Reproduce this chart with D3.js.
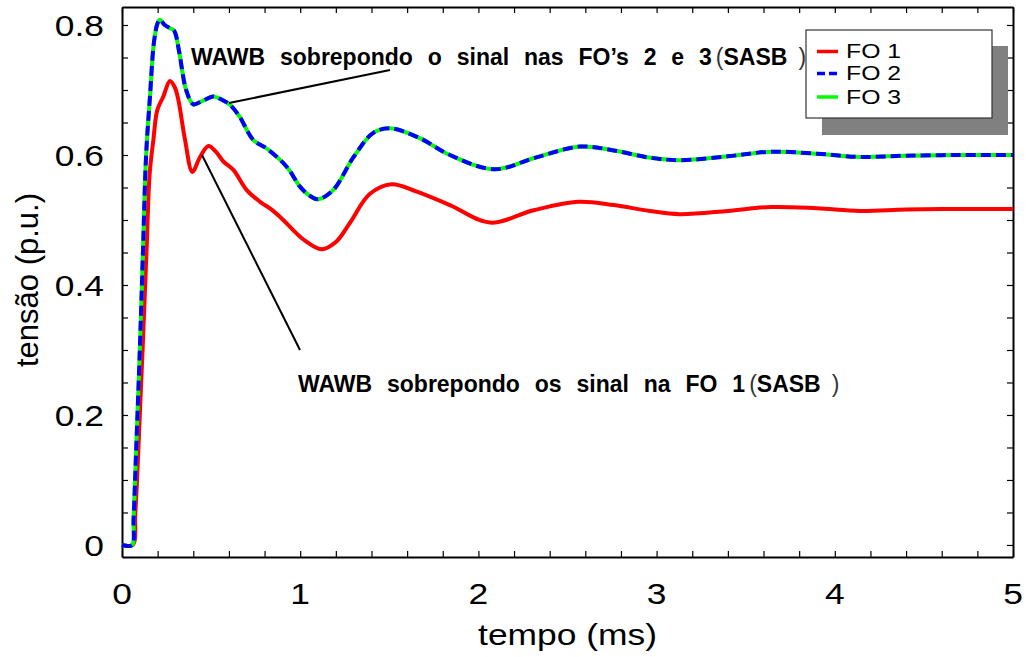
<!DOCTYPE html>
<html>
<head>
<meta charset="utf-8">
<script src="https://cdn.jsdelivr.net/npm/d3@7/dist/d3.min.js"></script>
<style>
  html, body { margin: 0; padding: 0; background: #fff; }
  svg { display: block; font-family: "Liberation Sans", Arial, sans-serif; }
</style>
</head>
<body>
<svg id="chart" width="1026" height="657"></svg>
<script>
// Time samples (ms) and voltage (p.u.) for each fibre output
const timeFO1 = [0, 0.06, 0.075, 0.1, 0.12, 0.138, 0.155, 0.176, 0.198, 0.232, 0.269, 0.295, 0.316, 0.354, 0.395,
  0.438, 0.485, 0.53, 0.569, 0.625, 0.70, 0.775, 0.84, 0.905, 1.018, 1.12, 1.20, 1.28, 1.39, 1.513, 1.65, 1.84,
  2.065, 2.31, 2.56, 2.76, 2.96, 3.13, 3.40, 3.64, 3.90, 4.14, 4.40, 4.70, 5.0];
const fo1 = [0, 0, 0.05, 0.2, 0.33, 0.454, 0.57, 0.623, 0.669, 0.690, 0.714, 0.705, 0.685, 0.623, 0.574,
  0.597, 0.614, 0.604, 0.590, 0.577, 0.546, 0.528, 0.516, 0.500, 0.470, 0.455, 0.466, 0.496, 0.540, 0.555, 0.544, 0.523,
  0.496, 0.515, 0.528, 0.523, 0.514, 0.509, 0.514, 0.520, 0.518, 0.514, 0.516, 0.517, 0.517];

const timeFO23 = [0, 0.056, 0.065, 0.08, 0.1, 0.118, 0.135, 0.157, 0.18, 0.2, 0.213, 0.24, 0.27, 0.293, 0.32,
  0.36, 0.40, 0.45, 0.513, 0.56, 0.607, 0.66, 0.737, 0.812, 0.924, 1.0, 1.05, 1.10, 1.185, 1.30, 1.41, 1.505, 1.67, 1.84,
  2.09, 2.31, 2.57, 2.76, 2.96, 3.13, 3.40, 3.64, 3.90, 4.14, 4.40, 4.70, 5.0];
const fo2 = [0, 0, 0.04, 0.15, 0.3, 0.455, 0.598, 0.69, 0.775, 0.803, 0.808, 0.800, 0.795, 0.791, 0.76,
  0.70, 0.678, 0.683, 0.690, 0.685, 0.677, 0.659, 0.623, 0.610, 0.582, 0.551, 0.538, 0.532, 0.546, 0.597, 0.634, 0.641, 0.626, 0.600,
  0.578, 0.595, 0.613, 0.607, 0.596, 0.592, 0.598, 0.605, 0.602, 0.597, 0.599, 0.600, 0.600];
const fo3 = [0, 0, 0.04, 0.15, 0.3, 0.455, 0.598, 0.69, 0.775, 0.803, 0.808, 0.800, 0.795, 0.791, 0.76,
  0.70, 0.678, 0.683, 0.690, 0.685, 0.677, 0.659, 0.623, 0.610, 0.582, 0.551, 0.538, 0.532, 0.546, 0.597, 0.634, 0.641, 0.626, 0.600,
  0.578, 0.595, 0.613, 0.607, 0.596, 0.592, 0.598, 0.605, 0.602, 0.597, 0.599, 0.600, 0.600];

const xTickValues = [0, 1, 2, 3, 4, 5];
const xTickLabels = ["0", "1", "2", "3", "4", "5"];
const yTickValues = [0, 0.2, 0.4, 0.6, 0.8];
const yTickLabels = ["0", "0.2", "0.4", "0.6", "0.8"];
const legendLabels = ["FO 1", "FO 2", "FO 3"];
const xTitle = "tempo (ms)";
const yTitle = "tensão (p.u.)";

const svg = d3.select("#chart");
const x = d3.scaleLinear().domain([0, 5]).range([122, 1013]);
const y = d3.scaleLinear().domain([-0.0185, 0.8277]).range([557, 7]);
const STRETCH = 1.18; // horizontal widening of the glyphs

function wideText(g, tx, ty, str, opts) {
  const t = g.append("text")
    .attr("transform", `translate(${tx},${ty}) scale(${opts.sx || STRETCH},1)`)
    .attr("font-size", opts.size)
    .attr("text-anchor", opts.anchor || "start")
    .attr("fill", "#000")
    .text(str);
  if (opts.weight) t.attr("font-weight", opts.weight);
  return t;
}

// minor ticks every 0.2 ms / 0.05 p.u. on all four sides, pointing inward
const xMinor = d3.range(0, 5.001, 0.2);
const yMinor = d3.range(0, 0.8001, 0.05);
svg.append("g").attr("transform", `translate(0,${y.range()[0]})`)
  .call(d3.axisBottom(x).tickValues(xMinor).tickSize(-6).tickSizeOuter(0).tickFormat(""));
svg.append("g").attr("transform", `translate(0,${y.range()[1]})`)
  .call(d3.axisTop(x).tickValues(xMinor).tickSize(-6).tickSizeOuter(0).tickFormat(""));
svg.append("g").attr("transform", `translate(${x.range()[0]},0)`)
  .call(d3.axisLeft(y).tickValues(yMinor).tickSize(-6).tickSizeOuter(0).tickFormat(""));
svg.append("g").attr("transform", `translate(${x.range()[1]},0)`)
  .call(d3.axisRight(y).tickValues(yMinor).tickSize(-6).tickSizeOuter(0).tickFormat(""));
svg.selectAll(".domain").attr("stroke", "#000").attr("stroke-width", 2);
svg.selectAll(".tick line").attr("stroke", "#000").attr("stroke-width", 1.2);

// tick labels
const labels = svg.append("g");
xTickValues.forEach((v, i) => wideText(labels, x(v), 604, xTickLabels[i], { size: 30, anchor: "middle" }));
yTickValues.forEach((v, i) => wideText(labels, 104, y(v) + 11, yTickLabels[i], { size: 30, anchor: "end" }));

// axis titles
wideText(svg, (x.range()[0] + x.range()[1]) / 2, 645, xTitle, { size: 30, anchor: "middle" });
svg.append("text")
  .attr("transform", `translate(38,280) rotate(-90)`)
  .attr("font-size", 31)
  .attr("text-anchor", "middle")
  .text(yTitle);

// curves
const line = d3.line().x(d => x(d[0])).y(d => y(d[1])).curve(d3.curveCatmullRom.alpha(0.5));
const plot = svg.append("g");
plot.append("path").datum(timeFO1.map((t, i) => [t, fo1[i]]))
  .attr("d", line).attr("fill", "none").attr("stroke", "#ff0000").attr("stroke-width", 4);
plot.append("path").datum(timeFO23.map((t, i) => [t, fo3[i]]))
  .attr("d", line).attr("fill", "none").attr("stroke", "#00ff00").attr("stroke-width", 4);
plot.append("path").datum(timeFO23.map((t, i) => [t, fo2[i]]))
  .attr("d", line).attr("fill", "none").attr("stroke", "#0000ff").attr("stroke-width", 4)
  .attr("stroke-dasharray", "10,5");

// annotations with leader lines
const ann = svg.append("g");
ann.append("line").attr("x1", 229).attr("y1", 103).attr("x2", 390).attr("y2", 70)
  .attr("stroke", "#000").attr("stroke-width", 2);
ann.append("line").attr("x1", 202).attr("y1", 155).attr("x2", 300).attr("y2", 350)
  .attr("stroke", "#000").attr("stroke-width", 2);

function annotation(tx, ty, words) {
  const t = ann.append("text").attr("x", tx).attr("y", ty)
    .attr("font-size", 23).attr("word-spacing", 8.5);
  t.append("tspan").attr("font-weight", "bold").text(words);
  t.append("tspan").attr("fill", "#333").attr("dx", 4).text("(");
  t.append("tspan").attr("font-weight", "bold").text("SASB");
  t.append("tspan").attr("fill", "#333").attr("dx", 11).text(")");
}
annotation(191, 65, "WAWB sobrepondo o sinal nas FO\u2019s 2 e 3");
annotation(298, 392, "WAWB sobrepondo os sinal na FO 1");

// legend with drop shadow
const leg = svg.append("g");
leg.append("rect").attr("x", 822).attr("y", 46).attr("width", 186).attr("height", 89).attr("fill", "#808080");
leg.append("rect").attr("x", 806).attr("y", 30).attr("width", 186).attr("height", 88)
  .attr("fill", "#fff").attr("stroke", "#333").attr("stroke-width", 1.2);
const legColors = ["#ff0000", "#0000ff", "#00ff00"];
const legDash = [null, "8,4", null];
const legRows = [51.5, 73.5, 97];
legendLabels.forEach((lab, i) => {
  const l = leg.append("line").attr("x1", 817).attr("x2", 838).attr("y1", legRows[i]).attr("y2", legRows[i])
    .attr("stroke", legColors[i]).attr("stroke-width", 3.5);
  if (legDash[i]) l.attr("stroke-dasharray", legDash[i]);
  wideText(leg, 846, legRows[i] + 6.5, lab, { size: 21 });
});
</script>
</body>
</html>
